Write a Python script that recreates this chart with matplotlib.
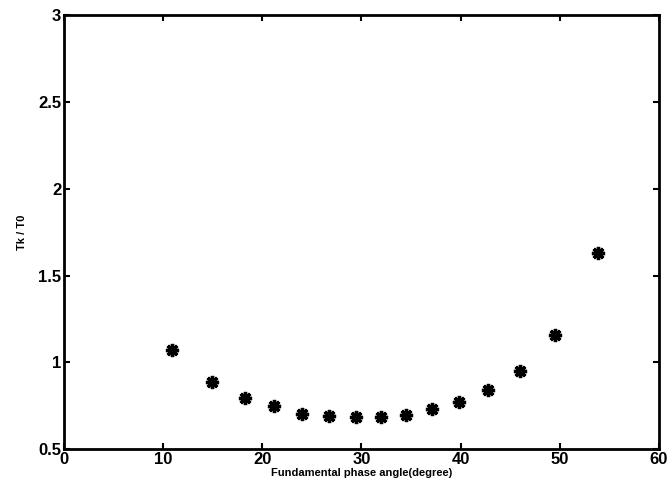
import matplotlib
matplotlib.use("Agg")
import matplotlib.pyplot as plt

angle = [10.9, 14.9, 18.3, 21.2, 24.0, 26.7, 29.4, 32.0, 34.5, 37.1, 39.8, 42.8, 46.0, 49.5, 53.9]
ratio = [1.073, 0.887, 0.795, 0.746, 0.704, 0.693, 0.685, 0.685, 0.698, 0.731, 0.771, 0.840, 0.948, 1.16, 1.631]

xticks = [0, 10, 20, 30, 40, 50, 60]
yticks = [0.5, 1, 1.5, 2, 2.5, 3]
ytick_labels = ["0.5", "1", "1.5", "2", "2.5", "3"]

plt.rcParams['font.family'] = ['Liberation Sans', 'DejaVu Sans']
fig = plt.figure(figsize=(6.7, 5.03), dpi=100)
ax = fig.add_axes([0.0955, 0.107, 0.888, 0.863])
ax.plot(angle, ratio, linestyle='none', marker=(8, 2, 0), markersize=9.5,
        markeredgewidth=2.4, color='black')
ax.set_xlim(0, 60)
ax.set_ylim(0.5, 3)
ax.set_xticks(xticks)
ax.set_yticks(yticks)
ax.set_yticklabels(ytick_labels)
ax.tick_params(direction='in', top=True, right=True, length=4, width=1.5,
               labelsize=12, pad=2)
for lab in ax.get_xticklabels() + ax.get_yticklabels():
    lab.set_fontweight('bold')
for s in ax.spines.values():
    s.set_linewidth(2)
ax.set_xlabel('Fundamental phase angle(degree)', fontsize=8, fontweight='bold', labelpad=1)
ax.set_ylabel('Tk / T0', fontsize=8, fontweight='bold', labelpad=8)
fig.savefig('out.png', dpi=100)
